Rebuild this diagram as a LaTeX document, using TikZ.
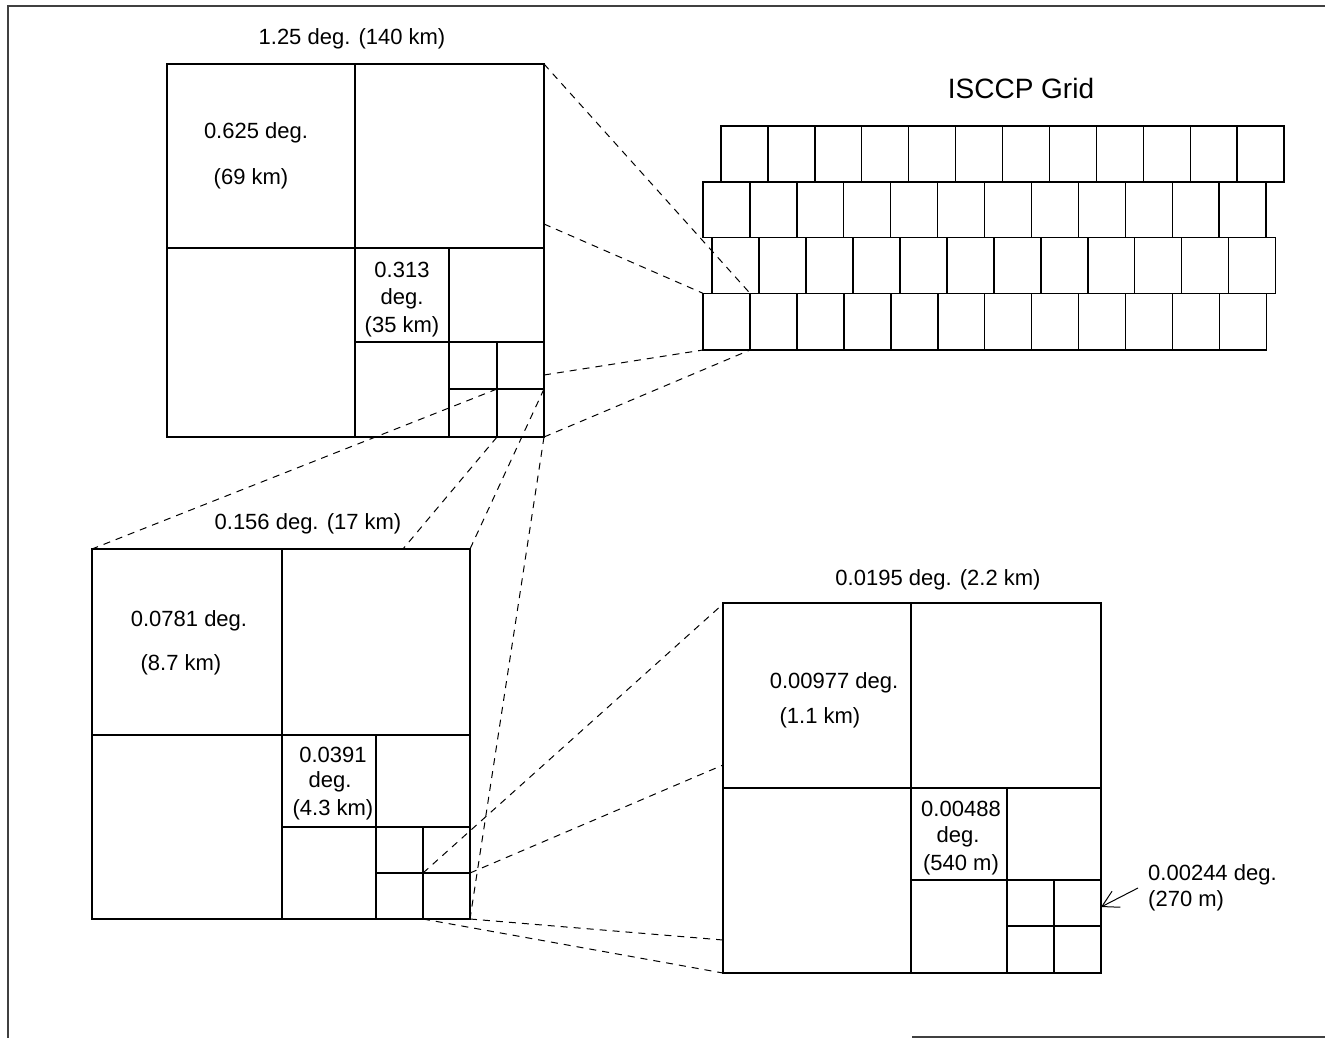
\documentclass[tikz,border=0pt]{standalone}
\usepackage{fontspec}
\setmainfont{Liberation Sans}
\usetikzlibrary{arrows.meta}
\begin{document}
\begin{tikzpicture}[x=1pt,y=-1pt,
  box/.style={line width=1.3pt, line join=miter},
  link/.style={line width=1pt, dash pattern=on 7pt off 6pt},
  lbl/.style={inner sep=0pt, anchor=base, font=\fontsize{22}{26}\selectfont},
  big/.style={inner sep=0pt, anchor=base, font=\fontsize{28}{32}\selectfont},
  frameline/.style={line width=1.2pt, black!75}]
\useasboundingbox (0,0) rectangle (1325,1038);
\fill[white] (0,0) rectangle (1325,1038);
% frame
\draw[frameline] (1325,6) -- (8,6) -- (8,1038);
\draw[frameline] (912,1037) -- (1325,1037);

% ---------- box 1 ----------
\draw[box] (167,64) rectangle (544,437);
\draw[box] (355,64) -- (355,437) (167,248) -- (544,248);
\draw[box] (449,248) -- (449,437) (355,342) -- (544,342);
\draw[box] (497,342) -- (497,437) (449,389) -- (544,389);
% ---------- box 2 ----------
\draw[box] (92,549) rectangle (470,919);
\draw[box] (282,549) -- (282,919) (92,735) -- (470,735);
\draw[box] (376,735) -- (376,919) (282,827) -- (470,827);
\draw[box] (423,827) -- (423,919) (376,873) -- (470,873);
% ---------- box 3 ----------
\draw[box] (723,603) rectangle (1101,973);
\draw[box] (911,603) -- (911,973) (723,788) -- (1101,788);
\draw[box] (1007,788) -- (1007,973) (911,880) -- (1101,880);
\draw[box] (1054,880) -- (1054,973) (1007,926) -- (1101,926);

% ---------- ISCCP grid ----------
\foreach \i in {0,...,11}{
  \draw[box] ({721+46.92*\i},126) rectangle ({721+46.92*(\i+1)},182);
  \draw[box] ({703+46.92*\i},182) rectangle ({703+46.92*(\i+1)},237.5);
  \draw[box] ({712+46.98*\i},237.5) rectangle ({712+46.98*(\i+1)},293.3);
  \draw[box] ({703+46.97*\i},293.3) rectangle ({703+46.97*(\i+1)},350);
}

% ---------- named points ----------
\coordinate (b1tr) at (544,64);
\coordinate (b1r) at (544,224);
\coordinate (b1rl) at (544,375);
\coordinate (b1br) at (544,437);
\coordinate (b1s) at (497,389);
\coordinate (b1sr) at (544,389);
\coordinate (b1sb) at (497,437);
\coordinate (gtr) at (750,293.3);
\coordinate (gtl) at (703,293.3);
\coordinate (gbl) at (703,350);
\coordinate (gbr) at (750,350);
\coordinate (b2tl) at (92,549);
\coordinate (b2tr) at (470,549);
\coordinate (b2t) at (403,549);
\coordinate (b2br) at (470,919);
\coordinate (b2s) at (423,873);
\coordinate (b2sr) at (470,873);
\coordinate (b2sb) at (423,919);
\coordinate (b3tl) at (723,604);
\coordinate (b3l) at (723,765);
\coordinate (b3lb) at (723,940);
\coordinate (b3bl) at (723,973);

\draw[link] (b1tr) -- (gtr);
\draw[link] (b1r) -- (gtl);
\draw[link] (b1rl) -- (gbl);
\draw[link] (b1br) -- (gbr);
\draw[link] (b1s) -- (b2tl);
\draw[link] (b1sr) -- (b2tr);
\draw[link] (b1sb) -- (b2t);
\draw[link] (b1br) -- (b2br);
\draw[link] (b2s) -- (b3tl);
\draw[link] (b2sr) -- (b3l);
\draw[link] (b2br) -- (b3lb);
\draw[link] (b2sb) -- (b3bl);

% ---------- labels ----------
\node[big] (grid) at (1021,99) {ISCCP Grid};
\node[lbl] (t1) at (352,45) {1.25 deg. (140 km)};
\node[lbl] (t2a) at (256,139) {0.625 deg.};
\node[lbl] (t2b) at (251,184) {(69 km)};
\node[lbl] (t3a) at (402,277) {0.313};
\node[lbl] (t3b) at (402,304) {deg.};
\node[lbl] (t3c) at (402,332) {(35 km)};
\node[lbl] (t4) at (308,529) {0.156 deg. (17 km)};
\node[lbl] (t5a) at (189,626) {0.0781 deg.};
\node[lbl] (t5b) at (181,670) {(8.7 km)};
\node[lbl] (t6a) at (333,762) {0.0391};
\node[lbl] (t6b) at (330,787) {deg.};
\node[lbl] (t6c) at (333,815) {(4.3 km)};
\node[lbl] (t7) at (938,585) {0.0195 deg. (2.2 km)};
\node[lbl] (t8a) at (834,688) {0.00977 deg.};
\node[lbl] (t8b) at (820,723) {(1.1 km)};
\node[lbl] (t9a) at (961,816) {0.00488};
\node[lbl] (t9b) at (958,842) {deg.};
\node[lbl] (t9c) at (961,870) {(540 m)};
\node[lbl, anchor=base west] (t10a) at (1148,880) {0.00244 deg.};
\node[lbl, anchor=base west] (t10b) at (1148,906) {(270 m)};
\coordinate (arrtail) at (1138,888);
\coordinate (arrtip) at (1101,907);
\draw[line width=1pt, -{Straight Barb[length=16pt,width=18pt,line width=1pt]}] (arrtail) -- (arrtip);
\end{tikzpicture}
\end{document}
